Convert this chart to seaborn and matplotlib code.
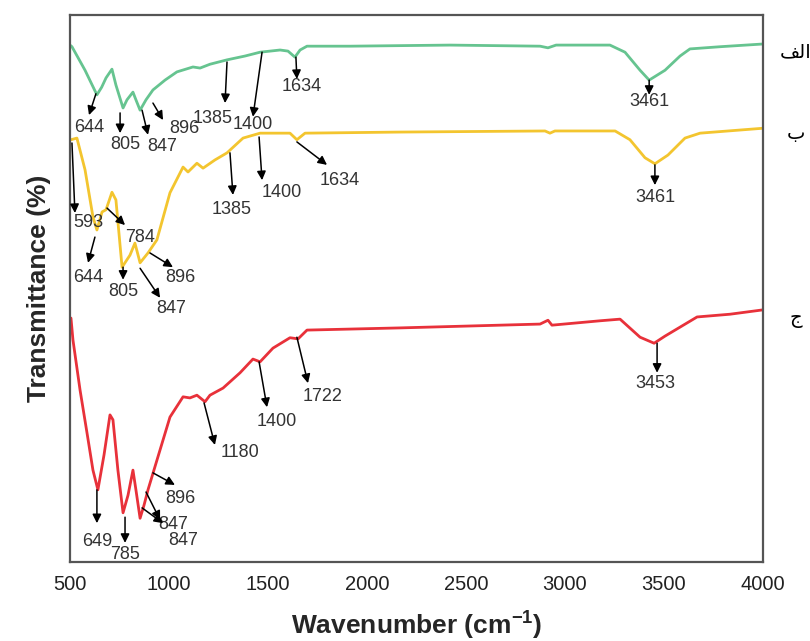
import numpy as np
import pandas as pd
import matplotlib
matplotlib.use("Agg")
import matplotlib.pyplot as plt
import seaborn as sns

# spectrum (a) - green
wn_a = [500, 510, 576, 636, 660, 682, 712, 732, 768, 788, 818, 833, 854, 884, 919, 980, 1040,
        1121, 1157, 1207, 1293, 1384, 1460, 1561, 1601, 1636, 1662, 1697, 1914, 2419, 2874,
        2914, 2955, 3227, 3303, 3379, 3425, 3505, 3581, 3631, 3783, 4000]
tr_a = [94.5, 94.2, 89.9, 85.4, 86.8, 88.5, 90.1, 87.2, 83.0, 84.5, 85.9, 84.5, 82.6, 84.5, 86.3, 88.1, 89.6,
        90.5, 90.3, 91.0, 91.8, 92.5, 93.2, 93.6, 93.4, 92.3, 93.6, 94.3, 94.3, 94.5, 94.3,
        94.0, 94.5, 94.5, 93.2, 89.9, 88.1, 89.9, 92.5, 93.8, 94.2, 94.7]

# spectrum (b) - yellow
wn_b = [505, 535, 576, 616, 636, 662, 682, 712, 732, 763, 803, 828, 854, 874, 894, 939,
        1005, 1071, 1096, 1141, 1172, 1232, 1293, 1374, 1460, 1611, 1646, 1687, 2167, 2899,
        2924, 2949, 3253, 3328, 3404, 3454, 3520, 3606, 3682, 4000]
tr_b = [77.2, 77.5, 71.7, 63.1, 60.7, 64.0, 64.4, 67.6, 66.2, 53.9, 56.1, 58.3, 54.7, 55.6, 56.5, 58.9,
        67.5, 72.2, 71.3, 72.9, 72.0, 73.5, 74.8, 77.5, 78.4, 78.4, 77.2, 78.4, 78.6, 78.8,
        78.4, 78.8, 78.8, 77.2, 73.9, 72.8, 74.4, 77.5, 78.4, 79.3]

# spectrum (c) - red
wn_c = [505, 515, 551, 586, 616, 641, 672, 702, 717, 742, 768, 793, 818, 833, 854, 874,
        894, 939, 1005, 1071, 1106, 1141, 1182, 1207, 1273, 1359, 1424, 1460, 1525, 1611,
        1652, 1697, 2167, 2874, 2914, 2934, 3177, 3278, 3379, 3450, 3505, 3667, 3833, 4000]
tr_c = [44.6, 40.6, 31.4, 23.6, 16.8, 13.2, 19.6, 26.9, 26.0, 16.8, 9.0, 12.2, 16.8, 13.2, 8.0, 10.4,
        13.2, 18.6, 26.5, 30.2, 30.0, 30.5, 29.3, 30.5, 31.8, 34.6, 37.1, 36.6, 39.1, 41.0,
        40.8, 42.4, 42.8, 43.5, 44.2, 43.3, 44.1, 44.4, 41.1, 40.0, 41.3, 44.8, 45.3, 46.1]

# peak labels: text, arrow tail (on curve), arrow tip, text centre
peaks_a = [("644", (631, 85.6), (596, 81.7), (596, 79.5)),
           ("805", (753, 82.1), (753, 78.4), (778, 76.4)),
           ("847", (864, 82.6), (894, 78.1), (965, 76.0)),
           ("896", (919, 83.9), (970, 80.8), (1080, 79.2)),
           ("1385", (1293, 91.4), (1283, 83.9), (1222, 81.0)),
           ("1400", (1470, 93.2), (1424, 81.4), (1424, 79.9)),
           ("1634", (1641, 92.3), (1646, 88.3), (1672, 87.0)),
           ("3461", (3425, 88.1), (3425, 85.4), (3425, 84.1))]
peaks_b = [("593", (510, 76.6), (525, 63.8), (591, 62.0)),
           ("784", (687, 64.7), (778, 61.6), (854, 59.4)),
           ("644", (626, 59.4), (591, 54.7), (591, 52.1)),
           ("805", (768, 53.9), (768, 51.6), (768, 49.4)),
           ("847", (854, 53.7), (955, 48.3), (1010, 46.4)),
           ("896", (904, 56.5), (1020, 53.9), (1056, 52.1)),
           ("1385", (1308, 74.8), (1323, 67.1), (1318, 64.4)),
           ("1400", (1455, 77.7), (1470, 69.8), (1571, 67.6)),
           ("1634", (1646, 76.8), (1798, 72.6), (1864, 69.8)),
           ("3461", (3454, 72.6), (3454, 68.9), (3454, 66.7))]
peaks_c = [("649", (636, 13.2), (636, 7.1), (636, 3.7)),
           ("785", (778, 8.2), (778, 3.5), (778, 1.3)),
           ("847", (884, 12.8), (955, 7.7), (1020, 6.8)),
           ("847", (864, 9.9), (970, 7.1), (1071, 4.0)),
           ("896", (919, 16.3), (1030, 14.1), (1056, 11.7)),
           ("1180", (1177, 29.1), (1232, 21.4), (1359, 20.1)),
           ("1400", (1455, 36.6), (1495, 28.3), (1545, 25.6)),
           ("1722", (1646, 41.1), (1702, 32.7), (1778, 30.2)),
           ("3453", (3465, 40.0), (3465, 34.6), (3454, 32.7))]

# sample names (arabic), written as presentation forms in visual order
names = ["\uFED2\uFEDF\uFE8D", "\uFE8F", "\uFE9D"]
name_y = [93.2, 78.3, 44.6]
colors = ["#66c490", "#f3c52f", "#e8313a"]

sns.set_theme(style="white")
plt.rcParams['font.family'] = ['Liberation Sans', 'DejaVu Sans']

fig = plt.figure(figsize=(8.1, 6.41), dpi=100)
ax = fig.add_axes([0.0864, 0.1232, 0.8556, 0.8534])

spectra = [(wn_a, tr_a), (wn_b, tr_b), (wn_c, tr_c)]
for (wn, tr), col in zip(spectra, colors):
    df = pd.DataFrame({"wn": wn, "tr": tr})
    sns.lineplot(data=df, x="wn", y="tr", color=col, lw=2, ax=ax, sort=False)

for peaks in [peaks_a, peaks_b, peaks_c]:
    for lab, tail, tip, txt in peaks:
        ax.annotate("", xy=tip, xytext=tail,
                    arrowprops=dict(arrowstyle="-|>", color="black", lw=1.1,
                                    mutation_scale=13, shrinkA=0, shrinkB=0))
        ax.text(txt[0], txt[1], lab, ha="center", va="center", fontsize=13,
                color="#333333")

trans = ax.get_yaxis_transform()
for nm, y in zip(names, name_y):
    ax.text(1.047, y, nm, transform=trans, ha="center", va="center",
            fontsize=14, family="DejaVu Sans", color="black", clip_on=False)

ax.set_xlim(500, 4000)
ax.set_ylim(0, 100)
ax.set_xticks(np.arange(500, 4001, 500))
ax.set_yticks([])
ax.tick_params(axis="x", length=0, pad=9, labelsize=14.5, labelcolor="#222222")
for sp in ax.spines.values():
    sp.set_color("#555555")
    sp.set_linewidth(1.6)

ax.set_xlabel(r"Wavenumber (cm$\mathregular{^{-1}}$)", fontsize=19, fontweight="bold", labelpad=12)
ax.set_ylabel("Transmittance (%)", fontsize=19, fontweight="bold", labelpad=14)

fig.savefig("out.png", dpi=100)
